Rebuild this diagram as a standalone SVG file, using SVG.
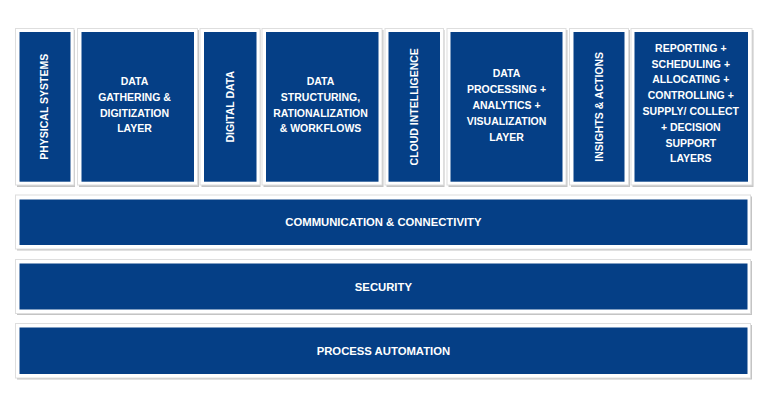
<svg xmlns="http://www.w3.org/2000/svg" width="767" height="406" viewBox="0 0 767 406">
<style>
.sh{fill:#c4c4c4}
.fr{fill:#ffffff;stroke:#dedede;stroke-width:1}
.bx{fill:#053f86}
.t{font-family:"Liberation Sans",Arial,sans-serif;font-weight:bold;font-size:10.5px;fill:#ffffff;text-anchor:middle;dominant-baseline:central}
.b{font-size:11.3px}
</style>
<rect width="767" height="406" fill="#ffffff"/>
<g id="physical-systems">
<rect class="sh" x="17" y="30" width="58" height="157"/>
<rect class="fr" x="15.5" y="28.5" width="58.5" height="156.5"/>
<rect class="bx" x="19.5" y="32" width="51" height="149.7"/>
<text class="t" transform="translate(44,106.8) rotate(-90)">PHYSICAL SYSTEMS</text>
</g>
<g id="data-gathering">
<rect class="sh" x="79" y="30" width="120" height="157"/>
<rect class="fr" x="77.5" y="28.5" width="120" height="156.5"/>
<rect class="bx" x="81.5" y="32" width="112.5" height="149.7"/>
<text class="t" x="134.5" y="81">DATA</text>
<text class="t" x="134.5" y="96.8">GATHERING &amp;</text>
<text class="t" x="134.5" y="112.6">DIGITIZATION</text>
<text class="t" x="134.5" y="128.4">LAYER</text>
</g>
<g id="digital-data">
<rect class="sh" x="201.5" y="30" width="59" height="157"/>
<rect class="fr" x="200" y="28.5" width="60" height="156.5"/>
<rect class="bx" x="204" y="32" width="52.5" height="149.7"/>
<text class="t" transform="translate(229.5,106.8) rotate(-90)">DIGITAL DATA</text>
</g>
<g id="data-structuring">
<rect class="sh" x="263.5" y="30" width="120" height="157"/>
<rect class="fr" x="262" y="28.5" width="120" height="156.5"/>
<rect class="bx" x="266" y="32" width="112.5" height="149.7"/>
<text class="t" x="320.5" y="81">DATA</text>
<text class="t" x="320.5" y="96.8">STRUCTURING,</text>
<text class="t" x="320.5" y="112.6">RATIONALIZATION</text>
<text class="t" x="320.5" y="128.4">&amp; WORKFLOWS</text>
</g>
<g id="cloud-intelligence">
<rect class="sh" x="386.5" y="30" width="58" height="157"/>
<rect class="fr" x="385" y="28.5" width="58.5" height="156.5"/>
<rect class="bx" x="388.5" y="32" width="51.5" height="149.7"/>
<text class="t" transform="translate(414,106.8) rotate(-90)">CLOUD INTELLIGENCE</text>
</g>
<g id="data-processing">
<rect class="sh" x="448.5" y="30" width="119" height="157"/>
<rect class="fr" x="447" y="28.5" width="119" height="156.5"/>
<rect class="bx" x="450.5" y="32" width="112" height="149.7"/>
<text class="t" x="506.5" y="73.3">DATA</text>
<text class="t" x="506.5" y="89.2">PROCESSING +</text>
<text class="t" x="506.5" y="105">ANALYTICS +</text>
<text class="t" x="506.5" y="120.9">VISUALIZATION</text>
<text class="t" x="506.5" y="136.7">LAYER</text>
</g>
<g id="insights-actions">
<rect class="sh" x="571" y="30" width="59" height="157"/>
<rect class="fr" x="569.5" y="28.5" width="59" height="156.5"/>
<rect class="bx" x="573.5" y="32" width="51" height="149.7"/>
<text class="t" transform="translate(598.5,106.8) rotate(-90)">INSIGHTS &amp; ACTIONS</text>
</g>
<g id="reporting">
<rect class="sh" x="632.5" y="30" width="121" height="157"/>
<rect class="fr" x="631" y="28.5" width="121" height="156.5"/>
<rect class="bx" x="634.5" y="32" width="113.5" height="149.7"/>
<text class="t" x="690.8" y="47.7">REPORTING +</text>
<text class="t" x="690.8" y="63.5">SCHEDULING +</text>
<text class="t" x="690.8" y="79.3">ALLOCATING +</text>
<text class="t" x="690.8" y="95.1">CONTROLLING +</text>
<text class="t" x="690.8" y="110.9">SUPPLY/ COLLECT</text>
<text class="t" x="690.8" y="126.7">+ DECISION</text>
<text class="t" x="690.8" y="142.5">SUPPORT</text>
<text class="t" x="690.8" y="158.3">LAYERS</text>
</g>
<g id="communication">
<rect class="sh" x="17" y="196.5" width="735" height="54"/>
<rect class="fr" x="15.5" y="195" width="735" height="54"/>
<rect class="bx" x="19.5" y="199.5" width="728" height="45.5"/>
<text class="t b" x="383.4" y="222.3">COMMUNICATION &amp; CONNECTIVITY</text>
</g>
<g id="security">
<rect class="sh" x="17" y="261" width="735" height="54"/>
<rect class="fr" x="15.5" y="259.5" width="735" height="54"/>
<rect class="bx" x="19.5" y="263.5" width="728" height="46"/>
<text class="t b" x="383.4" y="286.5">SECURITY</text>
</g>
<g id="process-automation">
<rect class="sh" x="17" y="325" width="735" height="54.5"/>
<rect class="fr" x="15.5" y="323.5" width="735" height="54.5"/>
<rect class="bx" x="19.5" y="327.5" width="728" height="46.5"/>
<text class="t b" x="383.4" y="350.8">PROCESS AUTOMATION</text>
</g>
<g id="connectors"></g>
</svg>
